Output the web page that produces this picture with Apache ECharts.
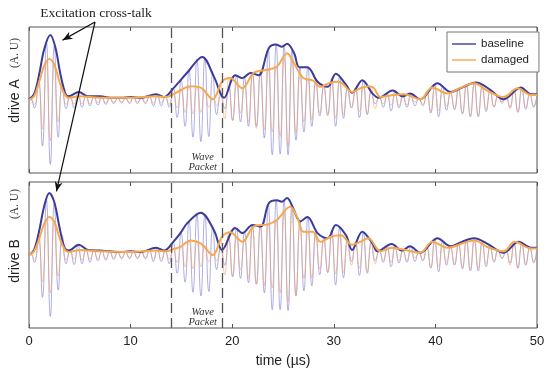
<!DOCTYPE html>
<html><head><meta charset="utf-8">
<script src="https://cdn.jsdelivr.net/npm/echarts@6/dist/echarts.min.js"></script>
<style>html,body{margin:0;padding:0;background:#fff}#c{width:550px;height:378px}</style>
</head><body><div id="c"></div>
<script>
// ---- data ----
const xTickValues = [0, 10, 20, 30, 40, 50];
const markerTimes = [14, 19];
const legendNames = ['baseline', 'damaged'];

const times = [0,0.15,0.54,0.93,1.32,1.71,2.10,2.49,2.88,3.27,3.66,4.05,4.44,4.83,5.22,5.61,6.00,6.39,6.78,7.17,7.56,7.95,8.34,8.73,9.12,9.51,9.90,10.29,10.68,11.07,11.46,11.85,12.24,12.63,13.02,13.41,13.80,14.19,14.58,14.97,15.36,15.75,16.14,16.53,16.92,17.31,17.70,18.09,18.48,18.87,19.26,19.65,20.04,20.43,20.82,21.21,21.60,21.99,22.38,22.77,23.16,23.55,23.94,24.33,24.72,25.11,25.50,25.89,26.28,26.67,27.06,27.45,27.84,28.23,28.62,29.01,29.40,29.79,30.18,30.57,30.96,31.35,31.74,32.13,32.52,32.91,33.30,33.69,34.08,34.47,34.86,35.25,35.64,36.03,36.42,36.81,37.20,37.59,37.98,38.37,38.76,39.15,39.54,39.93,40.32,40.71,41.10,41.49,41.88,42.27,42.66,43.05,43.44,43.83,44.22,44.61,45.00,45.39,45.78,46.17,46.56,46.95,47.34,47.73,48.12,48.51,48.90,49.29,49.68,50];

const sigBaseA = [0,0.02,-0.11,0.30,-0.63,0.79,-0.88,0.74,-0.51,0.24,-0.12,0.06,-0.11,0.11,-0.10,0.07,-0.08,0.05,-0.07,0.05,-0.06,0.03,-0.05,0.03,-0.04,0.03,-0.05,0.04,-0.05,0.03,-0.05,0.05,-0.08,0.08,-0.08,0.05,-0.10,0.16,-0.24,0.27,-0.36,0.41,-0.51,0.56,-0.57,0.57,-0.50,0.36,-0.20,0.06,-0.12,0.18,-0.28,0.34,-0.30,0.31,-0.36,0.37,-0.36,0.38,-0.52,0.69,-0.75,0.76,-0.74,0.75,-0.75,0.68,-0.55,0.44,-0.44,0.45,-0.36,0.28,-0.22,0.19,-0.20,0.30,-0.36,0.32,-0.25,0.18,-0.11,0.17,-0.24,0.27,-0.20,0.11,-0.05,0.04,-0.10,0.10,-0.15,0.12,-0.11,0.05,-0.10,0.09,-0.08,0.02,-0.08,0.12,-0.18,0.22,-0.23,0.19,-0.14,0.11,-0.13,0.16,-0.19,0.21,-0.23,0.24,-0.23,0.20,-0.16,0.14,-0.10,0.06,-0.03,0.04,-0.10,0.14,-0.17,0.17,-0.13,0.09,-0.10,0.08];
const sigDamA = [0,0.01,-0.06,0.21,-0.40,0.52,-0.56,0.49,-0.30,0.17,-0.06,0.04,-0.05,0.05,-0.05,0.05,-0.05,0.04,-0.04,0.03,-0.04,0.03,-0.03,0.03,-0.03,0.02,-0.03,0.03,-0.03,0.03,-0.03,0.04,-0.04,0.05,-0.04,0.04,-0.06,0.08,-0.11,0.14,-0.17,0.19,-0.19,0.18,-0.17,0.14,-0.10,0.02,-0.08,0.20,-0.26,0.29,-0.28,0.22,-0.18,0.20,-0.30,0.36,-0.39,0.40,-0.41,0.43,-0.44,0.46,-0.50,0.58,-0.64,0.55,-0.45,0.36,-0.30,0.28,-0.27,0.23,-0.18,0.20,-0.22,0.24,-0.25,0.25,-0.20,0.15,-0.11,0.13,-0.16,0.18,-0.19,0.18,-0.12,0.05,-0.05,0.06,-0.07,0.07,-0.08,0.08,-0.07,0.05,-0.03,0.01,-0.06,0.11,-0.16,0.17,-0.15,0.12,-0.09,0.10,-0.13,0.16,-0.18,0.20,-0.22,0.23,-0.21,0.17,-0.13,0.11,-0.09,0.06,-0.05,0.07,-0.12,0.15,-0.16,0.13,-0.10,0.07,-0.08,0.07];
const sigBaseB = [0,0.02,-0.10,0.29,-0.58,0.76,-0.84,0.72,-0.48,0.27,-0.12,0.08,-0.13,0.14,-0.12,0.09,-0.10,0.07,-0.08,0.06,-0.07,0.05,-0.06,0.04,-0.05,0.04,-0.05,0.05,-0.05,0.04,-0.05,0.07,-0.09,0.10,-0.09,0.06,-0.12,0.18,-0.25,0.31,-0.37,0.46,-0.51,0.55,-0.56,0.55,-0.50,0.38,-0.20,0.10,-0.14,0.22,-0.30,0.37,-0.32,0.32,-0.38,0.41,-0.40,0.40,-0.52,0.69,-0.75,0.75,-0.75,0.75,-0.76,0.69,-0.56,0.46,-0.49,0.52,-0.42,0.34,-0.27,0.24,-0.24,0.34,-0.41,0.37,-0.31,0.22,-0.09,0.18,-0.28,0.31,-0.25,0.18,-0.08,0.06,-0.10,0.12,-0.16,0.14,-0.11,0.06,-0.10,0.12,-0.09,0.04,-0.08,0.12,-0.18,0.22,-0.23,0.19,-0.14,0.12,-0.14,0.16,-0.19,0.21,-0.22,0.23,-0.22,0.19,-0.16,0.14,-0.10,0.07,-0.04,0.05,-0.11,0.15,-0.18,0.17,-0.14,0.11,-0.11,0.10];
const sigDamB = [0,0.01,-0.06,0.19,-0.37,0.48,-0.52,0.45,-0.29,0.17,-0.07,0.05,-0.06,0.07,-0.07,0.07,-0.06,0.05,-0.05,0.05,-0.05,0.04,-0.04,0.04,-0.04,0.04,-0.04,0.04,-0.04,0.04,-0.04,0.05,-0.05,0.06,-0.05,0.05,-0.06,0.08,-0.10,0.12,-0.16,0.19,-0.19,0.18,-0.16,0.13,-0.09,0.01,-0.08,0.20,-0.27,0.30,-0.29,0.24,-0.20,0.22,-0.31,0.38,-0.40,0.41,-0.42,0.43,-0.45,0.47,-0.52,0.58,-0.64,0.64,-0.55,0.42,-0.32,0.32,-0.32,0.26,-0.19,0.20,-0.24,0.25,-0.26,0.27,-0.24,0.18,-0.14,0.16,-0.18,0.21,-0.23,0.17,-0.12,0.06,-0.07,0.08,-0.10,0.09,-0.08,0.08,-0.07,0.06,-0.04,0.03,-0.07,0.11,-0.17,0.17,-0.16,0.13,-0.10,0.11,-0.13,0.15,-0.17,0.18,-0.19,0.20,-0.18,0.15,-0.12,0.10,-0.08,0.07,-0.05,0.08,-0.14,0.17,-0.17,0.14,-0.12,0.09,-0.09,0.09];

const envBaseA = [[0,0.01],[0.5,0.08],[1.0,0.35],[1.5,0.70],[2.1,0.89],[2.6,0.72],[3.1,0.35],[3.6,0.08],[3.9,0.05],[4.9,0.11],[5.8,0.05],[7.0,0.05],[8.0,0.03],[9.0,0.03],[10.0,0.04],[11.0,0.03],[12.5,0.08],[13.3,0.04],[14.2,0.16],[15.6,0.38],[17.05,0.59],[18.2,0.32],[19.2,0.03],[20.3,0.34],[21.0,0.30],[21.8,0.37],[22.6,0.34],[23.6,0.71],[24.3,0.76],[24.9,0.73],[25.4,0.77],[26.1,0.64],[26.6,0.45],[27.4,0.45],[28.4,0.25],[29.4,0.18],[30.2,0.36],[31.2,0.21],[31.8,0.10],[32.8,0.27],[33.8,0.09],[34.4,0.03],[35.8,0.13],[36.8,0.05],[37.5,0.09],[38.5,0.01],[40.2,0.23],[41.5,0.11],[42.6,0.17],[44.0,0.24],[45.4,0.14],[46.7,0.01],[48.4,0.17],[49.4,0.08],[50,0.08]];
const envDamA = [[0,0],[0.5,0.05],[1.0,0.25],[1.5,0.47],[2.0,0.56],[2.5,0.48],[3.0,0.25],[3.5,0.08],[3.9,0.03],[5.0,0.05],[7.0,0.03],[10.0,0.03],[12.5,0.05],[13.5,0.04],[14.2,0.08],[15.0,0.14],[15.9,0.19],[16.9,0.17],[18.1,0.01],[19.0,0.25],[19.8,0.30],[21.0,0.16],[22.1,0.37],[23.3,0.41],[24.4,0.46],[25.4,0.64],[26.1,0.50],[27.0,0.30],[27.9,0.27],[28.7,0.18],[29.5,0.23],[30.5,0.25],[31.8,0.11],[32.6,0.16],[33.4,0.19],[33.9,0.17],[34.6,0.04],[35.8,0.07],[36.9,0.08],[38.5,0.01],[39.7,0.17],[41.2,0.09],[42.5,0.17],[43.8,0.23],[45.1,0.13],[46.7,0.04],[48.1,0.16],[49.4,0.07],[50,0.07]];
const envBaseB = [[0,0],[0.5,0.07],[1.0,0.33],[1.5,0.67],[2.0,0.85],[2.5,0.72],[3.0,0.38],[3.5,0.10],[3.9,0.06],[4.9,0.14],[5.8,0.07],[7.0,0.06],[8.0,0.05],[9.0,0.04],[10.0,0.05],[11.0,0.04],[12.5,0.10],[13.3,0.06],[14.2,0.18],[14.9,0.30],[15.6,0.44],[16.9,0.58],[18.2,0.34],[19.0,0.07],[20.3,0.37],[21.0,0.30],[22.0,0.41],[22.8,0.39],[23.6,0.71],[24.4,0.75],[24.9,0.73],[25.4,0.78],[26.0,0.64],[26.7,0.46],[27.4,0.52],[28.4,0.30],[29.4,0.23],[30.2,0.41],[31.2,0.27],[31.8,0.07],[32.8,0.32],[33.8,0.16],[34.3,0.05],[35.7,0.15],[36.7,0.06],[37.5,0.12],[38.5,0.03],[40.2,0.23],[41.5,0.12],[42.6,0.18],[43.8,0.23],[45.3,0.14],[46.7,0.03],[48.2,0.18],[49.4,0.10],[50,0.10]];
const envDamB = [[0,0],[0.5,0.05],[1.0,0.22],[1.5,0.43],[2.0,0.52],[2.5,0.45],[3.0,0.24],[3.5,0.08],[3.9,0.04],[5.0,0.07],[7.0,0.05],[10.0,0.04],[12.5,0.06],[13.5,0.05],[14.2,0.08],[14.9,0.11],[15.9,0.20],[16.9,0.16],[18.1,0.0],[19.0,0.25],[19.8,0.31],[21.0,0.18],[22.1,0.39],[23.5,0.42],[24.4,0.48],[25.7,0.66],[26.4,0.52],[27.0,0.32],[27.9,0.32],[28.7,0.18],[29.7,0.25],[30.7,0.27],[31.8,0.14],[32.6,0.18],[33.4,0.23],[34.6,0.05],[35.7,0.10],[36.7,0.08],[38.5,0.03],[39.7,0.18],[41.2,0.10],[43.1,0.18],[43.9,0.20],[45.1,0.11],[46.7,0.05],[47.8,0.18],[49.4,0.09],[50,0.09]];

// ---- styles ----
const BLUE = '#3b3b9c', ORANGE = '#f6a84c';
const BLUE_T = 'rgba(110,110,215,0.55)', ORANGE_T = 'rgba(238,158,98,0.55)';
const SANS = 'Liberation Sans, Arial, sans-serif';
const SERIF = 'Liberation Serif, DejaVu Serif, serif';

function zip(ts, vs) { return ts.map((t, i) => [t, vs[i]]); }

const chart = echarts.init(document.getElementById('c'), null, {renderer: 'canvas'});

function xAx(gi, pos, labels) {
  return {
    type: 'value', gridIndex: gi, position: pos, min: xTickValues[0], max: xTickValues[xTickValues.length - 1],
    interval: xTickValues[1] - xTickValues[0],
    axisLine: {show: false, onZero: false}, splitLine: {show: false},
    axisTick: {show: true, inside: true, length: 4, lineStyle: {color: '#555', width: 1}},
    axisLabel: {show: labels, fontSize: 13, color: '#222', fontFamily: SANS, margin: 7},
    name: labels ? 'time (µs)' : '', nameLocation: 'middle', nameGap: 26,
    nameTextStyle: {fontSize: 14, color: '#222', fontFamily: SANS}
  };
}
function yAx(gi) {
  return {type: 'value', gridIndex: gi, min: -1, max: 1,
    axisLine: {show: false, onZero: false}, axisTick: {show: false}, axisLabel: {show: false}, splitLine: {show: false}};
}
function thin(name, data, gi, color) {
  return {type: 'line', name: name, xAxisIndex: gi * 2, yAxisIndex: gi, data: data, smooth: 0.5,
    symbol: 'none', showSymbol: false, silent: true, z: 2,
    lineStyle: {color: color, width: 1}};
}
function env(name, data, gi, color, withMarks) {
  const s = {type: 'line', name: name, xAxisIndex: gi * 2, yAxisIndex: gi, data: data, smooth: 0.35,
    symbol: 'none', showSymbol: false, silent: true, z: 3,
    itemStyle: {color: color}, lineStyle: {color: color, width: 2}};
  if (withMarks) {
    s.markLine = {silent: true, symbol: 'none', label: {show: false}, animation: false,
      lineStyle: {color: '#555', type: [10, 5], width: 1.3},
      data: markerTimes.map(t => ({xAxis: t}))};
  }
  return s;
}

const gridTop = [27, 182];
chart.setOption({
  animation: false,
  backgroundColor: '#fff',
  grid: gridTop.map(t => ({left: 29, top: t, width: 508, height: 146, show: true,
    borderColor: '#555', borderWidth: 1, backgroundColor: 'transparent'})),
  xAxis: [xAx(0, 'bottom', false), xAx(0, 'top', false), xAx(1, 'bottom', true), xAx(1, 'top', false)],
  yAxis: [yAx(0), yAx(1)],
  legend: {
    show: true, orient: 'vertical', left: 447, top: 32, padding: [6, 10, 6, 5], itemGap: 4,
    itemWidth: 24, itemHeight: 1.4, icon: 'rect', borderColor: '#777', borderWidth: 1, borderRadius: 0,
    backgroundColor: '#fff', data: legendNames, selectedMode: false,
    textStyle: {fontSize: 11.5, color: '#222', fontFamily: SANS, lineHeight: 12}
  },
  series: [
    thin('sigBaseA', zip(times, sigBaseA), 0, BLUE_T),
    thin('sigDamA', zip(times, sigDamA), 0, ORANGE_T),
    env(legendNames[0], envBaseA, 0, BLUE, true),
    env(legendNames[1], envDamA, 0, ORANGE, false),
    thin('sigBaseB', zip(times, sigBaseB), 1, BLUE_T),
    thin('sigDamB', zip(times, sigDamB), 1, ORANGE_T),
    env(legendNames[0], envBaseB, 1, BLUE, true),
    env(legendNames[1], envDamB, 1, ORANGE, false)
  ]
});

// ---- annotations ----
function arrowHead(s, t, L, W) {
  const dx = t[0] - s[0], dy = t[1] - s[1], len = Math.hypot(dx, dy);
  const ux = dx / len, uy = dy / len, nx = -uy, ny = ux;
  return [t, [t[0] - ux * L + nx * W, t[1] - uy * L + ny * W],
    [t[0] - ux * L * 0.7, t[1] - uy * L * 0.7], [t[0] - ux * L - nx * W, t[1] - uy * L - ny * W]];
}
const start = [95, 22];
const tipA = chart.convertToPixel({gridIndex: 0}, [3.3, 0.82]);
const tipB = chart.convertToPixel({gridIndex: 1}, [2.7, 0.87]);
const graphics = [
  {type: 'text', x: 96, y: 13, z: 10, style: {text: 'Excitation cross-talk', font: '13.5px ' + SERIF, fill: '#222', align: 'center', verticalAlign: 'middle'}},
  {type: 'text', x: 15, y: 101, rotation: Math.PI / 2, z: 10, style: {text: 'drive A', font: '14px ' + SANS, fill: '#222', align: 'center', verticalAlign: 'middle'}},
  {type: 'text', x: 15, y: 53, rotation: Math.PI / 2, z: 10, style: {text: '(A. U)', font: '11.5px ' + SERIF, fill: '#333', align: 'center', verticalAlign: 'middle'}},
  {type: 'text', x: 15, y: 261, rotation: Math.PI / 2, z: 10, style: {text: 'drive B', font: '14px ' + SANS, fill: '#222', align: 'center', verticalAlign: 'middle'}},
  {type: 'text', x: 15, y: 204, rotation: Math.PI / 2, z: 10, style: {text: '(A. U)', font: '11.5px ' + SERIF, fill: '#333', align: 'center', verticalAlign: 'middle'}}
];
[tipA, tipB].forEach(tp => {
  graphics.push({type: 'line', z: 10, shape: {x1: start[0], y1: start[1], x2: tp[0], y2: tp[1]}, style: {stroke: '#111', lineWidth: 1.2}});
  graphics.push({type: 'polygon', z: 10, shape: {points: arrowHead(start, tp, 10, 4)}, style: {fill: '#111'}});
});
[0, 1].forEach(gi => {
  const p1 = chart.convertToPixel({gridIndex: gi}, [17.1, -0.78]);
  const p2 = chart.convertToPixel({gridIndex: gi}, [17.1, -0.92]);
  graphics.push({type: 'text', x: p1[0], y: p1[1], z: 10, style: {text: 'Wave', font: 'italic 10.5px ' + SERIF, fill: '#333', align: 'center', verticalAlign: 'middle'}});
  graphics.push({type: 'text', x: p2[0], y: p2[1], z: 10, style: {text: 'Packet', font: 'italic 10.5px ' + SERIF, fill: '#333', align: 'center', verticalAlign: 'middle'}});
});
chart.setOption({graphic: graphics});
</script>
</body></html>
